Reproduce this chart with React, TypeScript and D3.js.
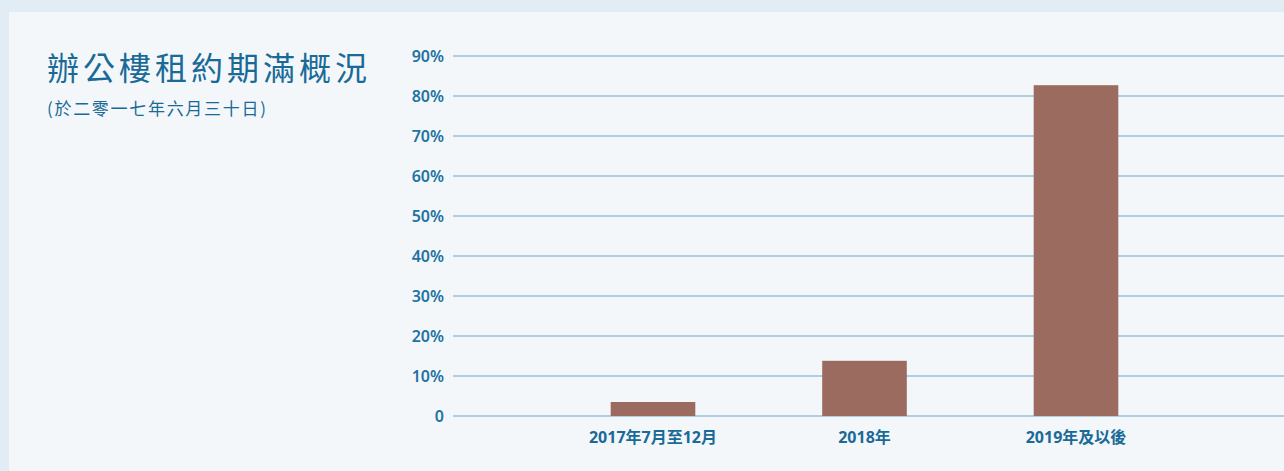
import React from "react";
import * as d3 from "d3";

const categories = ["2017年7月至12月", "2018年", "2019年及以後"];
const values = [3.5, 13.8, 82.7];
const yTicks = [0, 10, 20, 30, 40, 50, 60, 70, 80, 90];
const title = "辦公樓租約期滿概況";
const subtitle = "(於二零一七年六月三十日)";

const W = 1284;
const H = 471;

export default function App() {
  const y = d3.scaleLinear().domain([0, 90]).range([416, 56]);
  const x = d3
    .scaleBand<string>()
    .domain(categories)
    .range([547.25, 1181.75])
    .paddingInner(0.6)
    .paddingOuter(0.3);
  const font = "'Noto Sans', 'Noto Sans CJK TC', sans-serif";
  const blue = "#1a6a98";
  return (
    <svg
      width={W}
      height={H}
      style={{ position: "absolute", left: 0, top: 0, display: "block" }}
    >
      <rect x={0} y={0} width={W} height={H} fill="#e2ecf4" />
      <rect x={9} y={12} width={W - 9} height={H - 12} fill="#f3f7fa" />
      <text
        x={47}
        y={80}
        fill={blue}
        fontFamily="'Noto Sans CJK TC', sans-serif"
        fontSize={32}
        letterSpacing={4}
      >
        {title}
      </text>
      <text
        x={47}
        y={115}
        fill={blue}
        fontFamily="'Noto Sans CJK TC', sans-serif"
        fontSize={17}
        letterSpacing={1.7}
      >
        {subtitle}
      </text>
      {yTicks.map((t) => (
        <g key={t}>
          <line
            x1={453}
            x2={W}
            y1={y(t)}
            y2={y(t)}
            stroke="#b0cde2"
            strokeWidth={2}
          />
          <text
            x={444}
            y={y(t)}
            dy="0.35em"
            textAnchor="end"
            fill="#2273a2"
            fontFamily={font}
            fontWeight={600}
            fontSize={16}
          >
            {t === 0 ? "0" : `${t}%`}
          </text>
        </g>
      ))}
      {categories.map((c, i) => (
        <g key={c}>
          <rect
            x={x(c)}
            y={y(values[i])}
            width={x.bandwidth()}
            height={y(0) - y(values[i])}
            fill="#9c6b60"
          />
          <text
            x={(x(c) as number) + x.bandwidth() / 2}
            y={443}
            textAnchor="middle"
            fill={blue}
            fontFamily={font}
            fontWeight={700}
            fontSize={16}
          >
            {c}
          </text>
        </g>
      ))}
    </svg>
  );
}
